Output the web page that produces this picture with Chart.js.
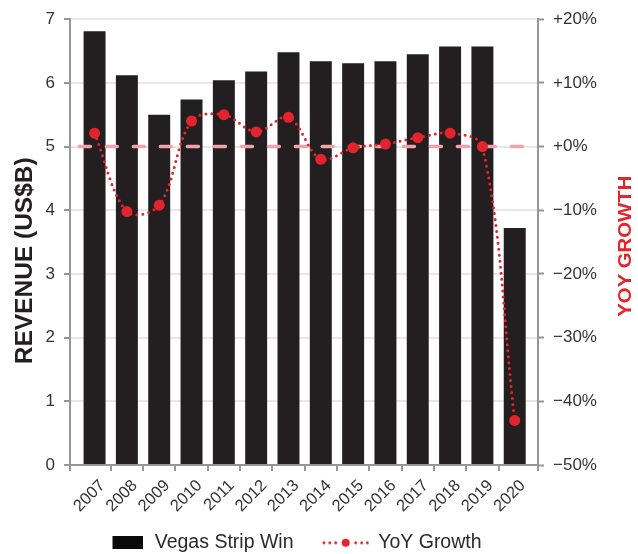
<!DOCTYPE html>
<html>
<head>
<meta charset="utf-8">
<script src="https://cdn.jsdelivr.net/npm/chart.js@4.4.1/dist/chart.umd.min.js"></script>
<style>
  html, body { margin: 0; padding: 0; background: #ffffff; }
  canvas { display: block; }
</style>
</head>
<body>
<canvas id="chart" width="638" height="554"></canvas>
<script>
// Las Vegas Strip gaming win (US$ billions) and its year-over-year growth (%)
const years = ['2007', '2008', '2009', '2010', '2011', '2012', '2013',
               '2014', '2015', '2016', '2017', '2018', '2019', '2020'];
const stripWin = [6.81, 6.12, 5.50, 5.74, 6.04, 6.18, 6.48,
                  6.34, 6.31, 6.34, 6.45, 6.57, 6.57, 3.72];
const yoyGrowth = [2.1, -10.2, -9.2, 4.0, 5.0, 2.3, 4.6,
                   -2.0, -0.2, 0.4, 1.4, 2.1, 0.0, -43.0];
const revenueTicks = [0, 1, 2, 3, 4, 5, 6, 7];
const growthTicks = [-50, -40, -30, -20, -10, 0, 10, 20];
const growthBaseline = 0;

const BAR = '#231f20';
const RED = '#e4242c';
const PINK = '#f2a2aa';
const AXIS = '#959595';
const GRID = '#e7e7e7';
const INK = '#333333';
const FONT = '"Liberation Sans", Arial, sans-serif';

// x range of the plot (in year-index units) and extent of the zero-growth guide
const X_MIN = -0.76, X_MAX = 13.72;
const GUIDE_FROM = -0.47, GUIDE_TO = 13.26;

const asPoints = values => values.map((y, i) => ({ x: i, y }));

function growthLabel(v) {
  if (v > 0) return '+' + v + '%';
  if (v < 0) return '\u2212' + Math.abs(v) + '%';
  return '+0%';
}

// legend swatches
function barSwatch() {
  const c = document.createElement('canvas');
  c.width = 60; c.height = 13;
  const g = c.getContext('2d');
  g.fillStyle = '#0a0a0a';
  g.fillRect(30, 0, 30, 13);
  return c;
}
function lineSwatch() {
  const c = document.createElement('canvas');
  c.width = 66; c.height = 10;
  const g = c.getContext('2d');
  g.fillStyle = RED;
  const mid = 42.7;
  [-21.7, -15.9, -10, 10, 16, 21.6].forEach(d => {
    g.beginPath(); g.arc(mid + d, 5, 1.5, 0, Math.PI * 2); g.fill();
  });
  g.beginPath(); g.arc(mid, 5, 4, 0, Math.PI * 2); g.fill();
  return c;
}
const swatches = { 'Vegas Strip Win': barSwatch(), 'YoY Growth': lineSwatch() };

// rotated axis titles, reading bottom to top on both sides
function verticalTitle(ctx, text, x, cy, length, size, color) {
  ctx.save();
  ctx.font = 'bold ' + size + 'px ' + FONT;
  const w = ctx.measureText(text).width;
  ctx.translate(x, cy);
  ctx.rotate(-Math.PI / 2);
  ctx.scale(length / w, 1);
  ctx.fillStyle = color;
  ctx.textAlign = 'center';
  ctx.textBaseline = 'alphabetic';
  ctx.fillText(text, 0, 0);
  ctx.restore();
}
const axisTitles = {
  id: 'axisTitles',
  afterDraw(chart) {
    const ctx = chart.ctx;
    verticalTitle(ctx, 'REVENUE (US$B)', 31.8, 260.8, 207, 23.3, BAR);
    verticalTitle(ctx, 'YOY GROWTH', 630.7, 246.2, 141, 18.8, RED);
  }
};

new Chart(document.getElementById('chart'), {
  type: 'bar',
  data: {
    datasets: [
      {
        type: 'line',
        label: 'YoY Growth',
        data: asPoints(yoyGrowth),
        xAxisID: 'x',
        yAxisID: 'y2',
        borderColor: RED,
        borderWidth: 3,
        borderDash: [0, 6],
        borderCapStyle: 'round',
        tension: 0.35,
        pointRadius: 5.5,
        pointBackgroundColor: RED,
        pointBorderWidth: 0,
        order: 0
      },
      {
        type: 'line',
        label: '',
        data: [{ x: GUIDE_FROM, y: growthBaseline }, { x: GUIDE_TO, y: growthBaseline }],
        xAxisID: 'x',
        yAxisID: 'y2',
        borderColor: PINK,
        borderWidth: 3.5,
        borderDash: [11, 16],
        borderCapStyle: 'round',
        pointRadius: 0,
        order: 1
      },
      {
        type: 'bar',
        label: 'Vegas Strip Win',
        data: asPoints(stripWin),
        xAxisID: 'x',
        yAxisID: 'y',
        backgroundColor: BAR,
        barPercentage: 0.68,
        categoryPercentage: 1,
        order: 2
      }
    ]
  },
  options: {
    responsive: false,
    maintainAspectRatio: false,
    devicePixelRatio: 1,
    animation: false,
    events: [],
    layout: { padding: { top: 18, left: 0, right: 0, bottom: 1 } },
    scales: {
      xt: {
        type: 'linear',
        position: 'bottom',
        weight: 0,
        min: X_MIN,
        max: X_MAX,
        offset: false,
        afterBuildTicks: s => {
          const bounds = years.slice(1).map((_, i) => i + 0.5);
          s.ticks = [X_MIN, ...bounds, X_MAX].map(v => ({ value: v }));
        },
        afterFit: s => { s.height = 6; },
        ticks: { display: false },
        grid: { drawOnChartArea: false, drawTicks: true, tickLength: 6, tickColor: AXIS, tickWidth: 2, lineWidth: 2, offset: false },
        border: { display: true, color: AXIS, width: 2 }
      },
      x: {
        type: 'linear',
        position: 'bottom',
        weight: 1,
        min: X_MIN,
        max: X_MAX,
        offset: false,
        afterBuildTicks: s => { s.ticks = years.map((_, i) => ({ value: i })); },
        afterFit: s => { s.height = 52; },
        ticks: {
          autoSkip: false,
          minRotation: 45,
          maxRotation: 45,
          padding: 5,
          labelOffset: 8,
          color: INK,
          font: { family: FONT, size: 16.5 },
          callback: (v, i) => years[i]
        },
        grid: { display: false, drawTicks: false, offset: false },
        border: { display: false }
      },
      y: {
        type: 'linear',
        position: 'left',
        min: 0,
        max: 7,
        afterBuildTicks: s => { s.ticks = revenueTicks.map(v => ({ value: v })); },
        afterFit: s => { s.width = 70; },
        ticks: { padding: 9, color: INK, font: { family: FONT, size: 17 } },
        grid: { color: GRID, lineWidth: 2, tickColor: AXIS, tickWidth: 2, tickLength: 6 },
        border: { color: AXIS, width: 2 }
      },
      y2: {
        type: 'linear',
        position: 'right',
        min: -50,
        max: 20,
        afterBuildTicks: s => { s.ticks = growthTicks.map(v => ({ value: v })); },
        afterFit: s => { s.width = 100; },
        ticks: { padding: 9, color: INK, font: { family: FONT, size: 17 }, callback: v => growthLabel(v) },
        grid: { drawOnChartArea: false, tickColor: AXIS, tickWidth: 2, tickLength: 6 },
        border: { color: AXIS, width: 2 }
      }
    },
    plugins: {
      tooltip: { enabled: false },
      legend: {
        position: 'bottom',
        align: 'start',
        fullSize: false,
        maxHeight: 30,
        labels: {
          usePointStyle: true,
          pointStyleWidth: 65,
          padding: 10,
          color: '#2a2a2a',
          font: { family: FONT, size: 19.5 },
          generateLabels: chart => ['Vegas Strip Win', 'YoY Growth'].map(name => {
            const idx = chart.data.datasets.findIndex(d => d.label === name);
            return {
              text: name,
              datasetIndex: idx,
              pointStyle: swatches[name],
              fillStyle: 'transparent',
              strokeStyle: 'transparent',
              lineWidth: 0,
              fontColor: '#2a2a2a',
              hidden: false
            };
          })
        }
      }
    }
  },
  plugins: [axisTitles]
});
</script>
</body>
</html>
